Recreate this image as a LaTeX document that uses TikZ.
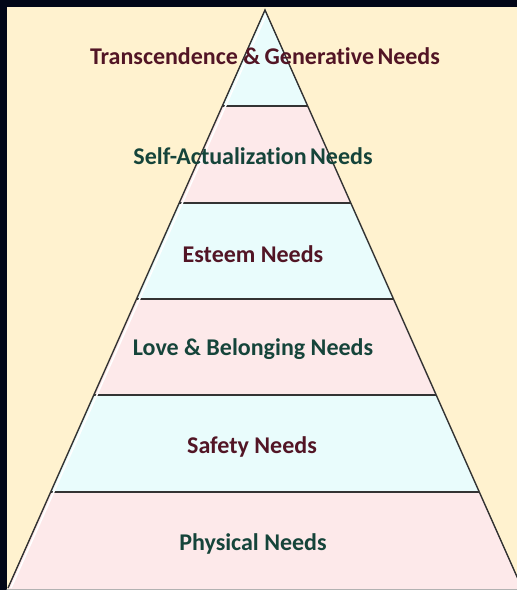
\documentclass[tikz,border=0pt]{standalone}
\usepackage{fontspec}
\setmainfont[Ligatures=NoCommon]{Carlito}
\usetikzlibrary{calc}
\definecolor{frame}{HTML}{020617}
\definecolor{cream}{HTML}{FFF2CF}
\definecolor{bandcyan}{HTML}{E9FCFC}
\definecolor{bandpink}{HTML}{FDE9EA}
\definecolor{maroon}{HTML}{521525}
\definecolor{deepgreen}{HTML}{15443A}
\definecolor{edge}{HTML}{333333}
\tikzset{
  lbl/.style={font=\fontsize{24}{26}\selectfont\bfseries, inner sep=0pt, anchor=center},
  lblm/.style={lbl, text=maroon},
  lblg/.style={lbl, text=deepgreen},
  bandline/.style={draw=edge, line width=1.4pt},
}
\begin{document}
\begin{tikzpicture}[x=1pt,y=-1pt]
\useasboundingbox (0,0) rectangle (517,590);
\fill[frame] (0,0) rectangle (517,590);
\fill[cream] (6.5,6.5) rectangle (517,590);
\begin{scope}
\clip (6.5,6.5) rectangle (517,590);
\def\lx#1{265-0.444637*(#1-10)}
\def\rx#1{265+0.444637*(#1-10)}
\coordinate (apex) at (265,10);
\coordinate (bl) at (8,588);
\coordinate (br) at (522,588);
\foreach \ya/\yb/\c in {10/106/bandcyan,106/203/bandpink,203/299/bandcyan,299/395/bandpink,395/492/bandcyan,492/588/bandpink}{
  \fill[\c] ({\lx{\ya}},\ya) -- ({\rx{\ya}},\ya) -- ({\rx{\yb}},\yb) -- ({\lx{\yb}},\yb) -- cycle;
}
\fill[bandpink] (8,588) rectangle (522,590);
\foreach \y in {106,203,299,395,492}{
  \draw[bandline] ({\lx{\y}},\y) -- ({\rx{\y}},\y);
}
\draw[white, line width=1.6pt] ($(apex)+(1.5,4)$) -- ($(bl)+(3,0)$);
\draw[edge, line width=1.4pt] (bl) -- (apex) -- (br);
\draw[gray!60, line width=1pt] (0,589.5) -- (517,589.5);
\end{scope}
\node[lblm] (t1) at (265,56) {Transcendence \&\kern-1pt\ Generative\kern-2pt\ Needs};
\node[lblg] (t2) at (253,156) {Self-Actualization\kern-2pt\ Needs};
\node[lblm] (t3) at (253,254) {Esteem Needs};
\node[lblg] (t4) at (253,349) {Love \& Belonging Needs};
\node[lblm] (t5) at (252,447) {Safety Needs};
\node[lblg] (t6) at (253,544) {Physical Needs};
\end{tikzpicture}
\end{document}
